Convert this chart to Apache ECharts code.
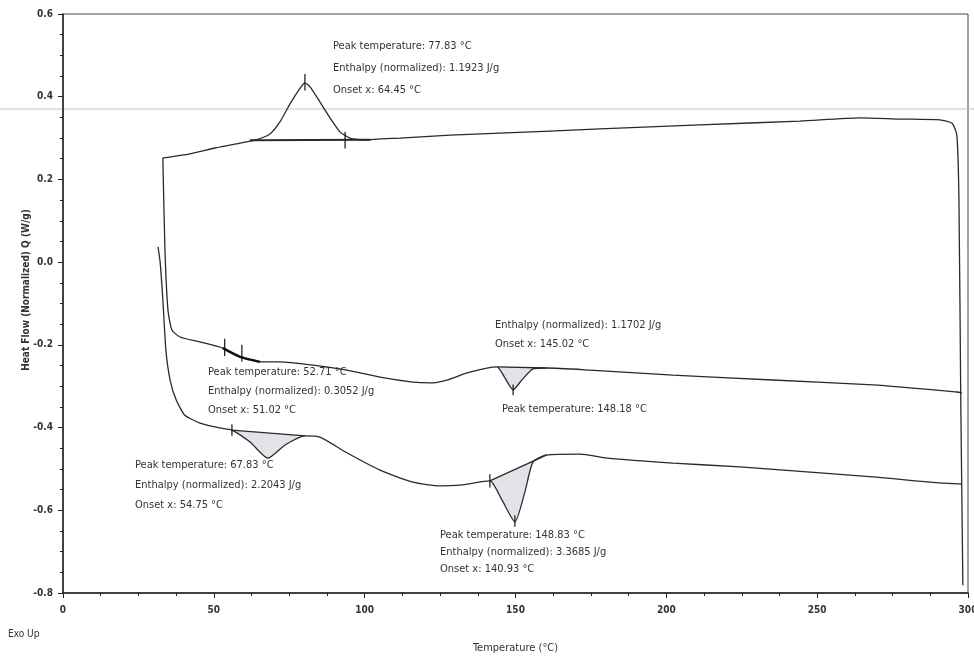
<!DOCTYPE html>
<html>
<head>
<meta charset="utf-8">
<script src="https://cdn.jsdelivr.net/npm/echarts@6/dist/echarts.min.js"></script>
<style>html,body{margin:0;padding:0;background:#fff;}#c{width:974px;height:662px;}</style>
</head>
<body>
<div id="c"></div>
<script>
// ---- data (temperature °C, heat flow W/g) ----
var xTicks = [0, 50, 100, 150, 200, 250, 300];
var yTicks = [-0.8, -0.6, -0.4, -0.2, 0.0, 0.2, 0.4, 0.6];

// cooling trace (top)
var coolCurve = [
  [33.1,0.252],[42.1,0.262],[50.4,0.276],[58.7,0.288],[63.6,0.295],[68.6,0.310],
  [71.9,0.339],[75.2,0.382],[78.6,0.421],[80.2,0.433],[81.9,0.424],[85.2,0.387],
  [88.5,0.349],[91.8,0.315],[95.1,0.300],[100.1,0.295],[105.1,0.298],[111.7,0.300],
  [128.3,0.307],[144.8,0.312],[178.0,0.322],[211.1,0.332],[244.3,0.341],[264.2,0.349],
  [277.4,0.346],[290.7,0.344],[294.7,0.336],[296.3,0.307],[297.0,0.150],[297.6,-0.333],[298.3,-0.781]
];
// second heating trace (middle)
var heat2Curve = [
  [33.1,0.252],[33.8,0.029],[34.8,-0.116],[36.1,-0.164],[38.8,-0.181],[45.4,-0.193],
  [53.0,-0.208],[58.7,-0.229],[65.3,-0.241],[71.9,-0.241],[82.9,-0.249],[94.1,-0.261],
  [105.1,-0.278],[116.0,-0.290],[121.6,-0.292],[127.3,-0.285],[133.9,-0.268],[140.5,-0.256],
  [143.9,-0.253],[146.5,-0.280],[149.2,-0.309],[152.1,-0.285],[155.8,-0.258],[160.4,-0.256],
  [174.7,-0.261],[202.2,-0.273],[235.3,-0.285],[268.5,-0.297],[296.3,-0.314],[298.0,-0.316]
];
// first heating trace (bottom)
var heat1Curve = [
  [31.5,0.037],[32.2,0.000],[33.1,-0.091],[34.1,-0.212],[35.5,-0.285],[37.5,-0.333],
  [40.4,-0.370],[45.4,-0.389],[52.0,-0.401],[56.0,-0.406],[62.0,-0.435],[67.9,-0.474],
  [73.6,-0.442],[80.2,-0.420],[85.2,-0.423],[94.1,-0.461],[105.1,-0.503],[116.0,-0.532],
  [125.0,-0.541],[131.6,-0.539],[141.5,-0.529],[145.5,-0.575],[149.8,-0.628],[153.1,-0.556],
  [155.8,-0.483],[160.4,-0.466],[171.4,-0.464],[180.3,-0.474],[202.2,-0.486],[224.4,-0.495],
  [246.6,-0.507],[268.5,-0.519],[296.3,-0.536],[298.0,-0.536]
];
// integrated peak regions (curve segment; closed by a straight baseline)
var peakTop   = [[62.0,0.295],[63.6,0.295],[68.6,0.310],[71.9,0.339],[75.2,0.382],[78.6,0.421],[80.2,0.433],[81.9,0.424],[85.2,0.387],[88.5,0.349],[91.8,0.315],[95.1,0.300],[102.0,0.296]];
var peakMidL  = [[53.0,-0.208],[58.7,-0.229],[65.3,-0.241]];
var peakMidR  = [[143.9,-0.253],[146.5,-0.280],[149.2,-0.309],[152.1,-0.285],[155.8,-0.258],[160.4,-0.256]];
var peakBotL  = [[56.0,-0.406],[62.0,-0.435],[67.9,-0.474],[73.6,-0.442],[80.2,-0.420]];
var peakBotR  = [[141.5,-0.529],[145.5,-0.575],[149.8,-0.628],[153.1,-0.556],[155.8,-0.483],[160.4,-0.466]];
// small vertical marker ticks [x, yLow, yHigh]
var markers = [[93.5,0.275,0.315],[80.2,0.415,0.455],[53.6,-0.227,-0.185],[59.3,-0.240,-0.200],
               [56.0,-0.420,-0.392],[141.5,-0.545,-0.513],[149.8,-0.640,-0.612],[149.2,-0.322,-0.296]];

var annTop  = ["Peak temperature: 77.83 °C","Enthalpy (normalized): 1.1923 J/g","Onset x: 64.45 °C"];
var annMidL = ["Peak temperature: 52.71 °C","Enthalpy (normalized): 0.3052 J/g","Onset x: 51.02 °C"];
var annMidR = ["Enthalpy (normalized): 1.1702 J/g","Onset x: 145.02 °C"];
var annMidR2= ["Peak temperature: 148.18 °C"];
var annBotL = ["Peak temperature: 67.83 °C","Enthalpy (normalized): 2.2043 J/g","Onset x: 54.75 °C"];
var annBotR = ["Peak temperature: 148.83 °C","Enthalpy (normalized): 3.3685 J/g","Onset x: 140.93 °C"];

var chart = echarts.init(document.getElementById('c'), null, {renderer:'canvas'});
var lineCol = '#2a2a2a';
var annFont = '"Liberation Sans Narrow","DejaVu Sans Condensed","Liberation Sans",sans-serif';

function fillSeries(pts) {
  return {
    type:'custom', silent:true, z:1,
    data:[0],
    renderItem:function(params, api){
      var p = pts.map(function(d){return api.coord(d);});
      return {type:'polygon', shape:{points:p}, style:{fill:'#e2e3e8', stroke:null}};
    }
  };
}
function baseSeries(pts, w) {
  return {type:'line', data:[pts[0], pts[pts.length-1]], symbol:'none', silent:true,
          lineStyle:{color:lineCol, width:w||1.3}, z:3};
}
function thickSeries(pts) {
  return {type:'line', data:pts, symbol:'none', silent:true, smooth:0.2,
          lineStyle:{color:'#111', width:2.4}, z:4};
}
function textBlock(x, y, lines, gap) {
  return lines.map(function(t, i){
    return {type:'text', left:x, top:y + i*(gap||19), silent:true,
      style:{text:t, fill:'#333', font:'11px ' + annFont}};
  });
}
function curveSeries(d) {
  return {type:'line', data:d, symbol:'none', smooth:0.2, silent:true,
          lineStyle:{color:lineCol, width:1.3}, z:2};
}

var series = [
  fillSeries(peakMidR), fillSeries(peakBotL), fillSeries(peakBotR),
  curveSeries(coolCurve), curveSeries(heat2Curve), curveSeries(heat1Curve),
  baseSeries(peakTop, 2), baseSeries(peakMidR), baseSeries(peakBotL), baseSeries(peakBotR),
  thickSeries(peakMidL),
  {type:'custom', silent:true, z:5, data:markers,
    renderItem:function(params, api){
      var a = api.coord([api.value(0), api.value(1)]);
      var b = api.coord([api.value(0), api.value(2)]);
      return {type:'line', shape:{x1:a[0],y1:a[1],x2:b[0],y2:b[1]}, style:{stroke:'#111', lineWidth:1.2}};
    }}
];

var graphics = [].concat(
  [{type:'line', shape:{x1:0,y1:109,x2:974,y2:109}, style:{stroke:'#c4c4c4', lineWidth:1}, silent:true, z:0}],
  textBlock(333, 41, annTop, 22),
  textBlock(208, 367, annMidL, 19),
  textBlock(495, 320, annMidR, 19),
  textBlock(502, 404, annMidR2, 19),
  textBlock(135, 460, annBotL, 20),
  textBlock(440, 530, annBotR, 17),
  [{type:'text', left:8, top:629, silent:true, style:{text:'Exo Up', fill:'#333', font:'10px ' + annFont}},
   {type:'text', x:26, y:290, rotation:Math.PI/2, silent:true,
     style:{text:'Heat Flow (Normalized) Q (W/g)', fill:'#333', font:'bold 10px ' + annFont, align:'center', verticalAlign:'middle'}}]
);

chart.setOption({
  animation:false,
  backgroundColor:'#ffffff',
  grid:{left:63, right:6, top:14, bottom:69, containLabel:false, outerBoundsMode:'none',
        show:true, borderColor:'#444', borderWidth:1, backgroundColor:'transparent'},
  xAxis:{type:'value', min:0, max:300, interval:50,
    name:'Temperature (°C)', nameLocation:'middle', nameGap:50,
    nameTextStyle:{color:'#333', fontSize:11, fontFamily:annFont},
    axisLine:{show:true, onZero:false, lineStyle:{color:'#222', width:1.5}},
    axisTick:{show:true, length:5, lineStyle:{color:'#222'}},
    minorTick:{show:true, splitNumber:4, length:3, lineStyle:{color:'#222'}},
    axisLabel:{color:'#333', fontSize:10, fontWeight:'bold', margin:12, fontFamily:annFont,
      hideOverlap:false, showMinLabel:true, showMaxLabel:true},
    splitLine:{show:false}},
  yAxis:{type:'value', min:-0.8, max:0.6, interval:0.2,
    axisLine:{show:true, onZero:false, lineStyle:{color:'#222', width:1.5}},
    axisTick:{show:true, length:5, lineStyle:{color:'#222'}},
    minorTick:{show:true, splitNumber:4, length:3, lineStyle:{color:'#222'}},
    axisLabel:{color:'#333', fontSize:10, fontWeight:'bold', margin:10, fontFamily:annFont,
      formatter:function(v){ return (Math.abs(v)<1e-9?0:v).toFixed(1); }},
    splitLine:{show:false}},
  series:series,
  graphic:graphics
});
</script>
</body>
</html>
